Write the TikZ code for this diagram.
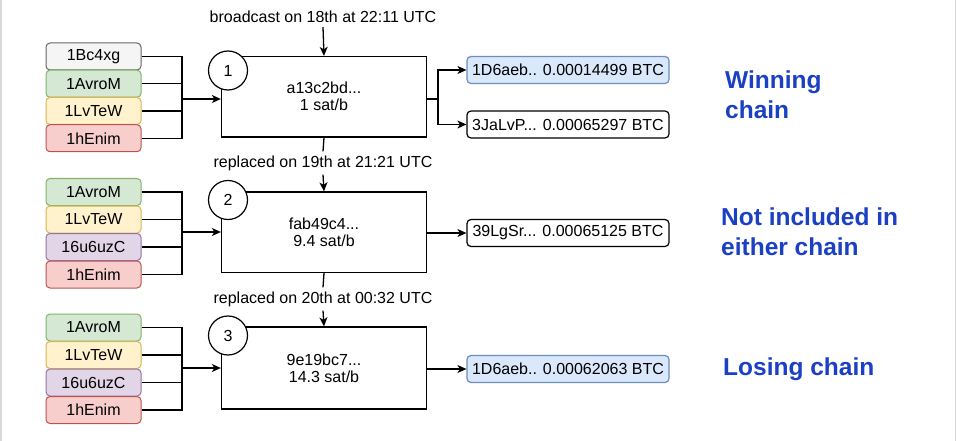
\documentclass[tikz,border=0pt]{standalone}
\usepackage{fontspec}
\setmainfont{Liberation Sans}
\usetikzlibrary{arrows.meta}
\definecolor{gfill}{HTML}{F5F5F5}\definecolor{gdraw}{HTML}{666666}
\definecolor{grfill}{HTML}{D5E8D4}\definecolor{grdraw}{HTML}{82B366}
\definecolor{yfill}{HTML}{FFF2CC}\definecolor{ydraw}{HTML}{D6B656}
\definecolor{rfill}{HTML}{F8CECC}\definecolor{rdraw}{HTML}{B85450}
\definecolor{pfill}{HTML}{E1D5E7}\definecolor{pdraw}{HTML}{9673A6}
\definecolor{bfill}{HTML}{DAE8FC}\definecolor{bdraw}{HTML}{6C8EBF}
\definecolor{chainblue}{RGB}{28,64,196}
\definecolor{edgegray}{HTML}{D8D8D8}
\tikzset{
  txt/.style={font=\fontsize{16}{17}\selectfont},
  inbox/.style={txt, draw, rounded corners=4pt, minimum width=95pt, minimum height=27pt, inner sep=0pt, line width=1pt},
  ingrey/.style={inbox, fill=gfill, draw=gdraw},
  ingreen/.style={inbox, fill=grfill, draw=grdraw},
  inyellow/.style={inbox, fill=yfill, draw=ydraw},
  inred/.style={inbox, fill=rfill, draw=rdraw},
  inpurple/.style={inbox, fill=pfill, draw=pdraw},
  txbox/.style={txt, draw, minimum width=205pt, align=center, inner sep=0pt, line width=1.3pt},
  numc/.style={txt, draw, circle, fill=white, minimum size=39pt, inner sep=0pt, line width=1.2pt},
  outbox/.style={txt, draw, rounded corners=4pt, minimum width=202pt, minimum height=27pt, inner sep=0pt, line width=1.2pt},
  outblue/.style={outbox, fill=bfill, draw=bdraw},
  lbl/.style={txt, inner sep=4pt},
  chain/.style={font=\bfseries\fontsize{24.5}{30}\selectfont, text=chainblue, align=left, anchor=west, inner sep=0pt},
  arr/.style={-{Stealth[length=9pt,width=8pt,inset=2.5pt]}},
  wire/.style={line width=1.3pt}
}
\begin{document}
\begin{tikzpicture}[x=1pt,y=-1pt]
\useasboundingbox (0,0) rectangle (956,441);
\fill[white] (0,0) rectangle (956,441);
\draw[edgegray, line width=3pt] (0,0) -- (0,441);
\draw[edgegray, line width=3pt] (956,0) -- (956,441);

% ---------- transaction 1 ----------
\node[txbox, minimum height=80.5pt] (b1) at (324,96.75) {a13c2bd...\\1 sat/b};
\node[numc] (c1) at (228,70.5) {1};
\node[ingrey]   (i11) at (93.5,56.5) {1Bc4xg};
\node[ingreen]  (i12) at (93.5,83.75) {1AvroM};
\node[inyellow] (i13) at (93.5,111) {1LvTeW};
\node[inred]    (i14) at (93.5,138.25) {1hEnim};
\coordinate (j1) at (182,99);
\foreach \n in {i11,i12,i13,i14} \draw[wire] (\n.east) -| (j1);
\draw[wire,arr] (j1) -- (b1.west |- j1);
\node[lbl] (l1) at (323,17) {broadcast on 18th at 22:11 UTC};
\draw[wire,arr] (l1.south) -- (b1.north);
\node[outblue] (o11) at (568,70) {1D6aeb.. 0.00014499 BTC};
\node[outbox]  (o12) at (568,124.5) {3JaLvP... 0.00065297 BTC};
\coordinate (k1) at (438,99);
\draw[wire] (b1.east |- k1) -- (k1);
\draw[wire,arr] (k1) |- (o11.west);
\draw[wire,arr] (k1) |- (o12.west);
\node[chain] (w1) at (725,95) {Winning\\chain};

% ---------- transaction 2 ----------
\node[txbox, minimum height=80.5pt] (b2) at (324,232.25) {fab49c4...\\9.4 sat/b};
\node[numc] (c2) at (228,200) {2};
\node[ingreen]  (i21) at (93.5,192) {1AvroM};
\node[inyellow] (i22) at (93.5,219.5) {1LvTeW};
\node[inpurple] (i23) at (93.5,247) {16u6uzC};
\node[inred]    (i24) at (93.5,274.5) {1hEnim};
\coordinate (j2) at (182,232);
\foreach \n in {i21,i22,i23,i24} \draw[wire] (\n.east) -| (j2);
\draw[wire,arr] (j2) -- (b2.west |- j2);
\node[lbl] (l2) at (323,163) {replaced on 19th at 21:21 UTC};
\draw[wire] (b1.south) -- (l2.north);
\draw[wire,arr] (l2.south) -- (b2.north);
\node[outbox] (o21) at (568,233) {39LgSr... 0.00065125 BTC};
\draw[wire,arr] (b2.east |- o21) -- (o21.west);
\node[chain] (w2) at (721,231.5) {Not included in\\either chain};

% ---------- transaction 3 ----------
\node[txbox, minimum height=82pt] (b3) at (324,368) {9e19bc7...\\14.3 sat/b};
\node[numc] (c3) at (228,335.5) {3};
\node[ingreen]  (i31) at (93.5,327.5) {1AvroM};
\node[inyellow] (i32) at (93.5,355) {1LvTeW};
\node[inpurple] (i33) at (93.5,382.5) {16u6uzC};
\node[inred]    (i34) at (93.5,410) {1hEnim};
\coordinate (j3) at (182,368);
\foreach \n in {i31,i32,i33,i34} \draw[wire] (\n.east) -| (j3);
\draw[wire,arr] (j3) -- (b3.west |- j3);
\node[lbl] (l3) at (323,299) {replaced on 20th at 00:32 UTC};
\draw[wire] (b2.south) -- (l3.north);
\draw[wire,arr] (l3.south) -- (b3.north);
\node[outblue] (o31) at (568,369) {1D6aeb.. 0.00062063 BTC};
\draw[wire,arr] (b3.east |- o31) -- (o31.west);
\node[chain] (w3) at (723,369) {Losing chain};
\end{tikzpicture}
\end{document}
